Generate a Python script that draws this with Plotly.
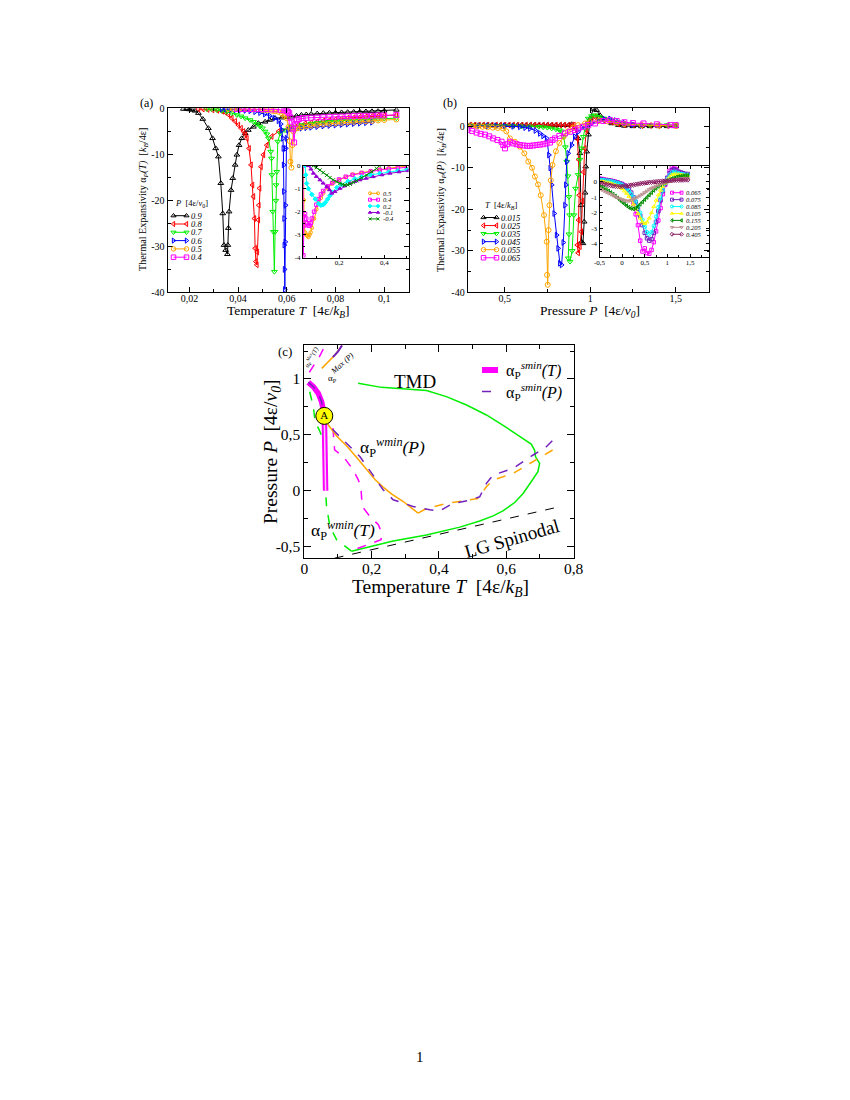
import plotly.graph_objects as go

W, H = 850, 1100
FONT = "Liberation Serif"

# ---------------- Panel (a): alpha_P(T) at fixed P ----------------
T_A09 = [0.0175, 0.0189, 0.0200, 0.0211, 0.0223, 0.0237, 0.0255, 0.0278, 0.0295, 0.0308,
         0.0319, 0.0329, 0.0337, 0.0342, 0.0349, 0.0356, 0.0358, 0.0360, 0.0363, 0.0371,
         0.0378, 0.0388, 0.0395, 0.0404, 0.0415, 0.0429, 0.0442, 0.0463, 0.0483, 0.0511,
         0.0530, 0.0552, 0.0580, 0.0600, 0.0620, 0.0640, 0.0660, 0.0680, 0.0700, 0.0725,
         0.0750, 0.0775, 0.0800, 0.0825, 0.0850, 0.0875, 0.0900, 0.0925, 0.0950, 0.0975,
         0.1000, 0.1050]
A_A09 = [0.0, 0.0, -0.1, -0.2, -0.4, -0.9, -2.2, -4.2, -6.4, -8.6,
         -10.4, -16.2, -22.8, -29.7, -30.8, -31.7, -29.7, -26.0, -22.4, -17.7,
         -15.1, -12.2, -10.0, -7.9, -6.4, -5.3, -4.6, -3.9, -3.1, -2.8,
         -2.4, -2.0, -1.9, -1.8, -1.7, -1.5, -1.3, -1.2, -1.1, -1.0,
         -0.9, -0.85, -0.8, -0.75, -0.7, -0.65, -0.6, -0.55, -0.5, -0.45,
         -0.4, -0.2]

T_A08 = [0.0237, 0.0255, 0.0275, 0.0295, 0.0315, 0.0335, 0.0347, 0.0360, 0.0374, 0.0388,
         0.0401, 0.0412, 0.0422, 0.0430, 0.0436, 0.0445, 0.0453, 0.0459, 0.0463, 0.0467,
         0.0470, 0.0473, 0.0477, 0.0479, 0.0483, 0.0485, 0.0488, 0.0494, 0.0504, 0.0518,
         0.0538, 0.0566, 0.0607, 0.0648, 0.0675, 0.0700, 0.0725, 0.0750, 0.0775, 0.0800,
         0.0825, 0.0850, 0.0875, 0.0900, 0.0925, 0.0950, 0.0975, 0.1000, 0.1050]
A_A08 = [0.0, 0.0, -0.1, -0.2, -0.3, -0.5, -0.7, -1.2, -2.0, -2.7,
         -3.5, -4.2, -4.9, -5.6, -6.4, -8.6, -12.2, -16.6, -19.1, -23.9,
         -30.4, -33.3, -34.0, -31.2, -24.2, -21.0, -17.3, -12.6, -10.0, -7.9,
         -6.0, -4.9, -4.2, -3.5, -3.2, -3.0, -2.8, -2.6, -2.45, -2.3,
         -2.15, -2.0, -1.9, -1.8, -1.7, -1.6, -1.5, -1.45, -1.3]

T_A07 = [0.0271, 0.0290, 0.0312, 0.0333, 0.0353, 0.0374, 0.0395, 0.0412, 0.0429, 0.0449,
         0.0463, 0.0477, 0.0490, 0.0500, 0.0511, 0.0518, 0.0525, 0.0534, 0.0537, 0.0539,
         0.0542, 0.0545, 0.0549, 0.0552, 0.0555, 0.0556, 0.0559, 0.0563, 0.0573, 0.0593,
         0.0620, 0.0660, 0.0700, 0.0725, 0.0750, 0.0775, 0.0800, 0.0825, 0.0850, 0.0875,
         0.0900, 0.0925, 0.0950, 0.0975, 0.1000, 0.1050]
A_A07 = [0.0, 0.0, -0.2, -0.4, -0.6, -0.9, -1.3, -1.6, -2.0, -2.4,
         -2.8, -3.3, -3.8, -4.2, -4.9, -5.5, -6.4, -9.3, -10.8, -14.4,
         -22.4, -26.8, -35.5, -26.8, -20.0, -16.6, -13.7, -7.1, -5.3, -4.6,
         -3.9, -3.5, -3.2, -3.05, -2.9, -2.8, -2.7, -2.6, -2.5, -2.45,
         -2.4, -2.3, -2.25, -2.2, -2.1, -2.0]

T_A06 = [0.0333, 0.0350, 0.0370, 0.0390, 0.0410, 0.0430, 0.0450, 0.0470, 0.0490, 0.0510,
         0.0530, 0.0550, 0.0566, 0.0575, 0.0580, 0.0584, 0.0586, 0.0587, 0.0588, 0.0589,
         0.0590, 0.0591, 0.0592, 0.0594, 0.0595, 0.0596, 0.0599, 0.0605, 0.0620, 0.0640,
         0.0660, 0.0680, 0.0700, 0.0725, 0.0750, 0.0775, 0.0800, 0.0825, 0.0850, 0.0875,
         0.0900, 0.0925, 0.0950]
A_A06 = [0.0, 0.0, -0.1, -0.15, -0.2, -0.3, -0.4, -0.6, -0.8, -1.1,
         -1.5, -2.0, -2.6, -3.3, -4.6, -6.4, -8.6, -12.2, -18.0, -23.9,
         -29.7, -35.0, -39.4, -29.0, -21.0, -8.6, -6.4, -4.6, -4.3, -4.3,
         -4.2, -4.1, -4.0, -3.85, -3.7, -3.6, -3.5, -3.4, -3.3, -3.2,
         -3.1, -3.0, -2.9]

T_A05 = [0.0360, 0.0380, 0.0400, 0.0420, 0.0440, 0.0460, 0.0480, 0.0500, 0.0520, 0.0540,
         0.0552, 0.0565, 0.0580, 0.0590, 0.0600, 0.0607, 0.0612, 0.0615, 0.0619, 0.0623,
         0.0627, 0.0634, 0.0645, 0.0660, 0.0680, 0.0700, 0.0725, 0.0750, 0.0775, 0.0800,
         0.0825, 0.0850, 0.0875, 0.0900, 0.0925, 0.0950, 0.0975, 0.1000, 0.1050]
A_A05 = [0.0, 0.0, 0.0, 0.0, 0.0, -0.1, -0.1, -0.2, -0.3, -0.4,
         -0.5, -0.6, -1.0, -1.5, -2.0, -3.9, -7.0, -11.5, -12.8, -7.9,
         -4.9, -4.2, -4.2, -4.0, -3.8, -3.6, -3.45, -3.3, -3.2, -3.1,
         -3.0, -2.9, -2.8, -2.7, -2.65, -2.6, -2.5, -2.4, -2.3]

T_A04 = [0.0395, 0.0415, 0.0435, 0.0455, 0.0475, 0.0495, 0.0515, 0.0535, 0.0555, 0.0575,
         0.0590, 0.0600, 0.0605, 0.0610, 0.0615, 0.0620, 0.0625, 0.0630, 0.0635, 0.0640,
         0.0650, 0.0665, 0.0680, 0.0700, 0.0725, 0.0750, 0.0775, 0.0800, 0.0825, 0.0850,
         0.0875, 0.0900, 0.0925, 0.0950, 0.0975, 0.1000, 0.1050]
A_A04 = [0.0, 0.0, 0.0, 0.0, 0.0, 0.0, 0.0, -0.1, -0.1, -0.2,
         -0.3, -0.4, -0.6, -0.9, -1.9, -2.8, -4.3, -7.3, -3.3, -2.5,
         -2.2, -2.0, -1.95, -1.9, -1.85, -1.8, -1.75, -1.7, -1.65, -1.6,
         -1.55, -1.5, -1.5, -1.45, -1.4, -1.4, -1.3]

# inset (a)
T_I05 = [0.043, 0.0445, 0.046, 0.050, 0.055, 0.060, 0.065, 0.070, 0.075, 0.080, 0.090, 0.100, 0.110,
         0.120, 0.130, 0.150, 0.170, 0.200, 0.230, 0.260, 0.300, 0.340, 0.380, 0.420, 0.460, 0.500]
A_I05 = [0.0, -1.5, -2.5, -2.9, -3.0, -3.05, -3.1, -3.0, -2.9, -2.7, -2.3, -1.9, -1.6,
         -1.4, -1.2, -0.95, -0.78, -0.62, -0.5, -0.38, -0.3, -0.23, -0.16, -0.11, -0.06, -0.02]
T_I04 = [0.041, 0.0425, 0.045, 0.050, 0.055, 0.060, 0.065, 0.070, 0.075, 0.080, 0.090, 0.100, 0.110,
         0.120, 0.130, 0.150, 0.170, 0.200, 0.230, 0.260, 0.300, 0.340, 0.380, 0.420, 0.460, 0.500]
A_I04 = [0.0, -3.9, -2.6, -2.1, -2.3, -2.5, -2.6, -2.6, -2.5, -2.3, -2.0, -1.7, -1.45,
         -1.25, -1.1, -0.9, -0.75, -0.6, -0.48, -0.4, -0.32, -0.25, -0.19, -0.14, -0.1, -0.07]
T_I02 = [0.050, 0.053, 0.057, 0.065, 0.080, 0.095, 0.110, 0.120, 0.130, 0.140, 0.150, 0.160,
         0.170, 0.190, 0.210, 0.240, 0.270, 0.300, 0.340, 0.380, 0.420, 0.460, 0.500]
A_I02 = [0.0, -0.4, -0.77, -1.0, -1.25, -1.45, -1.65, -1.72, -1.7, -1.6, -1.45, -1.3,
         -1.15, -0.95, -0.82, -0.68, -0.57, -0.48, -0.4, -0.33, -0.27, -0.22, -0.17]
T_Im01 = [0.065, 0.076, 0.087, 0.100, 0.116, 0.130, 0.146, 0.158, 0.168, 0.182, 0.204,
          0.225, 0.249, 0.270, 0.293, 0.320, 0.351, 0.390, 0.425, 0.465, 0.506]
A_Im01 = [0.0, -0.15, -0.33, -0.47, -0.62, -0.76, -0.91, -1.05, -1.2, -1.13, -0.99,
          -0.88, -0.77, -0.69, -0.62, -0.55, -0.48, -0.4, -0.33, -0.27, -0.22]
T_Im04 = [0.087, 0.100, 0.116, 0.130, 0.146, 0.160, 0.175, 0.190, 0.204, 0.215,
          0.226, 0.238, 0.249, 0.263, 0.278, 0.300, 0.322, 0.345, 0.366, 0.378]
A_Im04 = [0.0, -0.08, -0.19, -0.3, -0.41, -0.52, -0.62, -0.7, -0.77, -0.81,
          -0.84, -0.83, -0.8, -0.73, -0.65, -0.53, -0.41, -0.26, -0.12, 0.0]

# ---------------- Panel (b): alpha_P(P) at fixed T ----------------
P_B015 = [0.30, 0.325, 0.35, 0.375, 0.40, 0.425, 0.45, 0.475, 0.50, 0.525, 0.55, 0.575,
          0.60, 0.625, 0.65, 0.675, 0.70, 0.725, 0.75, 0.775, 0.80, 0.825, 0.85, 0.875,
          0.892, 0.910, 0.930, 0.940, 0.946, 0.950, 0.958, 0.965, 0.970, 0.974, 0.980, 0.990,
          1.000, 1.018, 1.038, 1.057, 1.087, 1.126, 1.165, 1.200, 1.250, 1.300, 1.350, 1.400,
          1.450, 1.500]
A_B015 = [0.3, 0.3, 0.3, 0.3, 0.3, 0.3, 0.3, 0.3, 0.3, 0.3, 0.3, 0.3,
          0.3, 0.3, 0.3, 0.3, 0.3, 0.3, 0.3, 0.3, 0.3, 0.3, 0.3, 0.3,
          0.5, -0.3, -2.9, -6.5, -19.0, -27.8, -28.2, -23.0, -16.0, -9.7, -6.1, -2.0,
          1.9, 4.2, 3.9, 2.7, 1.5, 0.7, 0.3, 0.1, 0.0, 0.0, 0.0, 0.0,
          0.0, 0.0]
P_B025 = [0.30, 0.325, 0.35, 0.375, 0.40, 0.425, 0.45, 0.475, 0.50, 0.525, 0.55, 0.575,
          0.60, 0.625, 0.65, 0.675, 0.70, 0.725, 0.75, 0.775, 0.80, 0.825, 0.85, 0.875,
          0.895, 0.905, 0.915, 0.925, 0.932, 0.936, 0.932, 0.925, 0.930, 0.940, 0.948, 0.955,
          0.962, 0.968, 0.978, 0.989, 1.009, 1.028, 1.050, 1.080, 1.126, 1.165, 1.200, 1.250,
          1.300, 1.350, 1.400, 1.450, 1.500]
A_B025 = [0.3, 0.3, 0.3, 0.3, 0.3, 0.3, 0.3, 0.3, 0.3, 0.3, 0.3, 0.3,
          0.3, 0.3, 0.3, 0.3, 0.3, 0.3, 0.3, 0.3, 0.3, 0.3, 0.3, 0.3,
          0.3, 0.3, -0.5, -3.0, -8.0, -16.6, -22.6, -28.6, -30.5, -29.0, -25.4, -18.0,
          -11.0, -5.3, -0.9, 1.1, 1.9, 2.3, 2.0, 1.5, 1.0, 0.6, 0.4, 0.3,
          0.2, 0.2, 0.2, 0.2, 0.2]
P_B035 = [0.30, 0.35, 0.40, 0.45, 0.50, 0.55, 0.60, 0.65, 0.70, 0.725,
          0.75, 0.775, 0.80, 0.82, 0.833, 0.845, 0.855, 0.863, 0.870, 0.876,
          0.880, 0.876, 0.872, 0.882, 0.895, 0.905, 0.915, 0.930, 0.940, 0.950,
          0.960, 0.970, 0.989, 1.008, 1.028, 1.050, 1.080, 1.126, 1.165, 1.200,
          1.250, 1.300, 1.350, 1.400, 1.450, 1.500]
A_B035 = [0.2, 0.2, 0.2, 0.1, 0.1, 0.1, 0.0, 0.0, -0.1, -0.2,
          -0.3, -0.5, -0.7, -0.9, -1.2, -2.5, -5.0, -8.5, -12.0, -17.0,
          -21.4, -26.0, -31.8, -32.6, -30.0, -21.4, -15.0, -11.7, -8.0, -5.3,
          -2.5, -0.5, 1.9, 2.5, 2.7, 2.3, 1.9, 1.5, 1.0, 0.6,
          0.4, 0.3, 0.3, 0.3, 0.3, 0.3]
P_B045 = [0.30, 0.35, 0.40, 0.45, 0.50, 0.55, 0.589, 0.620, 0.648, 0.680,
          0.706, 0.725, 0.746, 0.759, 0.767, 0.775, 0.790, 0.804, 0.813, 0.823,
          0.833, 0.843, 0.853, 0.858, 0.863, 0.872, 0.892, 0.910, 0.930, 0.951,
          0.980, 1.010, 1.050, 1.085, 1.117, 1.150, 1.200, 1.250, 1.300]
A_B045 = [0.1, 0.1, 0.1, 0.1, 0.1, 0.0, -0.1, -0.3, -0.5, -1.0,
          -1.7, -2.3, -2.9, -6.9, -10.0, -14.1, -21.0, -26.2, -29.4, -33.0,
          -33.4, -28.0, -19.0, -14.1, -8.5, -6.5, -4.5, -2.5, -1.3, -0.3,
          0.2, 0.8, 1.3, 1.7, 1.8, 1.4, 0.8, 0.4, 0.2]
P_B055 = [0.283, 0.310, 0.340, 0.370, 0.400, 0.430, 0.460, 0.490, 0.510, 0.531,
          0.560, 0.589, 0.615, 0.638, 0.660, 0.677, 0.695, 0.711, 0.730, 0.746,
          0.748, 0.752, 0.757, 0.762, 0.770, 0.780, 0.800, 0.820, 0.845, 0.870,
          0.900, 0.930, 0.970, 1.000, 1.050, 1.100, 1.150, 1.200, 1.300, 1.400, 1.500]
A_B055 = [0.2, 0.1, 0.0, -0.1, -0.2, -0.3, -0.4, -0.5, -1.2, -2.9,
          -3.7, -4.9, -6.5, -8.5, -10.0, -12.1, -14.0, -16.6, -21.4, -27.8,
          -35.8, -38.2, -25.0, -19.0, -13.0, -9.3, -6.0, -4.0, -2.5, -1.2,
          -0.3, 0.3, 0.7, 1.0, 1.3, 1.2, 0.9, 0.6, 0.3, 0.2, 0.1]
P_B065 = [0.283, 0.310, 0.336, 0.360, 0.385, 0.410, 0.433, 0.458, 0.482, 0.492,
          0.502, 0.515, 0.531, 0.550, 0.570, 0.589, 0.610, 0.630, 0.648, 0.668,
          0.687, 0.706, 0.726, 0.745, 0.765, 0.780, 0.794, 0.820, 0.853, 0.882,
          0.911, 0.930, 0.960, 0.989, 1.028, 1.077, 1.116, 1.155, 1.200, 1.250,
          1.312, 1.390, 1.470, 1.500]
A_B065 = [-0.8, -1.1, -1.5, -1.8, -2.0, -2.4, -2.9, -3.3, -3.7, -4.5,
          -5.3, -4.3, -3.7, -4.1, -4.3, -4.5, -4.6, -4.7, -4.7, -4.6,
          -4.5, -4.4, -4.3, -4.1, -3.9, -3.3, -2.9, -2.3, -1.7, -1.3,
          -0.9, -0.5, -0.1, 0.3, 0.7, 1.3, 1.5, 1.3, 1.0, 0.8,
          0.7, 0.5, 0.3, 0.3]

# inset (b)
P_INSET = [-0.5, -0.45, -0.4, -0.35, -0.3, -0.25, -0.2, -0.15, -0.1, -0.05,
           0.0, 0.05, 0.1, 0.15, 0.2, 0.25, 0.3, 0.35, 0.4, 0.45,
           0.5, 0.55, 0.6, 0.65, 0.7, 0.75, 0.8, 0.85, 0.9, 0.95,
           1.0, 1.05, 1.1, 1.15, 1.2, 1.25, 1.3, 1.35, 1.4, 1.45]
A_J065 = [0.2, 0.18, 0.15, 0.12, 0.1, 0.07, 0.04, 0.0, -0.05, -0.1,
          -0.15, -0.25, -0.4, -0.6, -0.9, -1.4, -2.1, -2.8, -3.8, -4.5,
          -4.3, -4.6, -4.65, -4.4, -3.9, -3.2, -2.5, -1.7, -0.8, -0.2,
          0.25, 0.7, 0.95, 1.0, 0.8, 0.6]
A_J075 = [0.15, 0.14, 0.12, 0.1, 0.08, 0.05, 0.02, -0.02, -0.05, -0.1,
          -0.15, -0.25, -0.35, -0.5, -0.7, -1.0, -1.3, -1.75, -2.2, -2.8,
          -3.3, -3.65, -3.8, -3.7, -3.3, -2.6, -1.9, -1.2, -0.6, -0.15,
          0.25, 0.55, 0.75, 0.8, 0.75, 0.65, 0.6, 0.55, 0.5, 0.5]
A_J085 = [0.12, 0.11, 0.1, 0.08, 0.06, 0.03, 0.0, -0.04, -0.08, -0.13,
          -0.2, -0.3, -0.42, -0.6, -0.8, -1.0, -1.25, -1.6, -2.0, -2.45,
          -2.9, -3.25, -3.4, -3.25, -2.85, -2.25, -1.65, -1.05, -0.55, -0.1,
          0.2, 0.45, 0.6, 0.65, 0.6, 0.55, 0.5, 0.48, 0.45, 0.45]
A_J105 = [0.05, 0.03, 0.0, -0.03, -0.05, -0.1, -0.15, -0.2, -0.25, -0.35,
          -0.45, -0.6, -0.75, -0.95, -1.2, -1.45, -1.75, -2.05, -2.35, -2.6,
          -2.7, -2.6, -2.35, -2.0, -1.6, -1.2, -0.85, -0.55, -0.3, -0.1,
          0.1, 0.3, 0.45, 0.5, 0.5, 0.48, 0.45, 0.43, 0.4, 0.4]
A_J155 = [-0.25, -0.32, -0.4, -0.5, -0.6, -0.7, -0.8, -0.92, -1.05, -1.18,
          -1.3, -1.42, -1.55, -1.65, -1.72, -1.75, -1.7, -1.6, -1.45, -1.3,
          -1.15, -1.0, -0.85, -0.7, -0.55, -0.42, -0.3, -0.2, -0.1, -0.03,
          0.05, 0.12, 0.2, 0.25, 0.3, 0.33, 0.35, 0.38, 0.4, 0.4]
A_J205 = [-0.45, -0.52, -0.6, -0.68, -0.75, -0.82, -0.9, -0.98, -1.05, -1.1,
          -1.15, -1.2, -1.25, -1.24, -1.2, -1.13, -1.05, -0.98, -0.9, -0.8,
          -0.7, -0.6, -0.5, -0.42, -0.35, -0.28, -0.2, -0.15, -0.1, -0.05,
          0.0, 0.05, 0.1, 0.12, 0.15, 0.17, 0.2, 0.2, 0.2, 0.2]
A_J405 = [-0.05, -0.08, -0.12, -0.16, -0.2, -0.24, -0.27, -0.29, -0.3, -0.31,
          -0.3, -0.29, -0.27, -0.25, -0.22, -0.2, -0.17, -0.15, -0.12, -0.1,
          -0.08, -0.06, -0.04, -0.03, -0.01, 0.0, 0.02, 0.03, 0.04, 0.05,
          0.06, 0.07, 0.08, 0.09, 0.1, 0.1, 0.11, 0.11, 0.12, 0.12]

# ---------------- Panel (c): phase diagram ----------------
TMD_T = [0.160, 0.229, 0.363, 0.422, 0.482, 0.541, 0.600, 0.650, 0.674, 0.684, 0.687, 0.699,
         0.694, 0.674, 0.650, 0.625, 0.590, 0.561, 0.521, 0.462, 0.363, 0.264, 0.185, 0.140]
TMD_P = [0.961, 0.925, 0.896, 0.842, 0.767, 0.678, 0.567, 0.469, 0.418, 0.364, 0.304, 0.245,
         0.170, 0.081, -0.024, -0.105, -0.180, -0.225, -0.270, -0.325, -0.395, -0.450, -0.505, -0.540]
SPIN_T = [0.090, 0.755]
SPIN_P = [-0.603, -0.145]
WT_T = [0.140, 0.096, 0.076, 0.066, 0.0614, 0.0584, 0.0564, 0.045, 0.032, 0.027, 0.018, 0.013]
WT_P = [-0.540, -0.438, -0.319, -0.140, 0.098, 0.277, 0.455, 0.540, 0.619, 0.753, 0.872, 0.920]
MW_T = [0.085, 0.087, 0.090, 0.116, 0.145, 0.160, 0.168, 0.172, 0.195, 0.220, 0.230, 0.228, 0.185, 0.145]
MW_P = [0.560, 0.450, 0.366, 0.306, 0.188, 0.100, 0.039, -0.140, -0.230, -0.304, -0.378, -0.438, -0.482, -0.530]
OR_T = [0.0594, 0.071, 0.096, 0.126, 0.155, 0.185, 0.210, 0.235, 0.260, 0.294, 0.334, 0.338]
OR_P = [0.670, 0.590, 0.490, 0.400, 0.300, 0.190, 0.100, 0.030, -0.030, -0.096, -0.185, -0.200]
ORD_T = [0.338, 0.363, 0.420, 0.480, 0.515, 0.541, 0.561, 0.620, 0.680, 0.719, 0.754]
ORD_P = [-0.200, -0.158, -0.115, -0.085, -0.070, 0.036, 0.096, 0.155, 0.260, 0.334, 0.394]
PU_T = [0.012, 0.0267, 0.0415, 0.0514, 0.0564, 0.0594, 0.086, 0.116, 0.165, 0.200, 0.234, 0.264,
        0.294, 0.323, 0.373, 0.402, 0.442, 0.491, 0.521, 0.541, 0.561, 0.620, 0.680, 0.719, 0.754]
PU_P = [0.970, 0.931, 0.872, 0.797, 0.722, 0.670, 0.543, 0.455, 0.306, 0.158, 0.009, -0.080,
        -0.110, -0.140, -0.170, -0.180, -0.113, -0.084, -0.054, 0.066, 0.140, 0.200, 0.320, 0.394, 0.500]
MS_T = [0.012, 0.0267, 0.0415, 0.0514, 0.0564, 0.0594, 0.0605, 0.0613, 0.0623, 0.0633]
MS_P = [0.970, 0.931, 0.872, 0.797, 0.722, 0.650, 0.500, 0.350, 0.150, 0.000]
MXT_T = [0.015, 0.030, 0.045, 0.062]
MXT_P = [1.060, 1.130, 1.200, 1.300]
MXP_T = [0.052, 0.070, 0.091, 0.112]
MXP_P = [1.095, 1.150, 1.214, 1.300]
MXPP_T = [0.085, 0.100, 0.112]
MXPP_P = [1.195, 1.245, 1.300]
A_T = [0.0594]
A_P = [0.670]

# legend labels
LEG_A = ["0.9", "0.8", "0.7", "0.6", "0.5", "0.4"]
LEG_AI = ["0.5", "0.4", "0.2", "-0.1", "-0.4"]
LEG_B = ["0.015", "0.025", "0.035", "0.045", "0.055", "0.065"]
LEG_BI = ["0.065", "0.075", "0.085", "0.105", "0.155", "0.205", "0.405"]

# colours / symbols
BLACK, RED, GREEN, BLUE = "#000000", "#ff0000", "#00ee00", "#0000ff"
ORANGE, MAGENTA, CYAN, YELLOW = "#ffa500", "#ff00ff", "#00ffff", "#ffff00"
VIOLET, INDIGO, GREEN4 = "#9400d3", "#7221bc", "#008b00"
ROSY, MAROON = "#bc8f8f", "#8b1c62"

fig = go.Figure()
annotations = []


def xd(a, b):
    return [a / W, b / W]


def yd(top, bottom):
    return [1 - bottom / H, 1 - top / H]


def axis(domain, rng, tickvals, ticktext, minor, fsize, tlen, anchor, standoff=0):
    return dict(domain=domain, range=rng, anchor=anchor, tickmode="array",
                tickvals=tickvals, ticktext=ticktext, ticks="inside", ticklen=tlen,
                tickwidth=1, tickcolor="black", ticklabelstandoff=standoff,
                minor=dict(tickmode="array", tickvals=minor, ticks="inside",
                           ticklen=max(2, round(tlen * 0.55)), tickwidth=1, tickcolor="black"),
                showline=True, linecolor="black", linewidth=1, mirror="ticks",
                showgrid=False, zeroline=False, automargin=False,
                tickfont=dict(family=FONT, size=fsize, color="black"),
                fixedrange=True)


def series(x, y, color, symbol, size, xa, ya, width=1.0):
    fig.add_trace(go.Scatter(
        x=x, y=y, mode="lines+markers", xaxis=xa, yaxis=ya, showlegend=False,
        hoverinfo="skip", line=dict(color=color, width=width),
        marker=dict(symbol=symbol, size=size, color=color, line=dict(color=color, width=1))))


def line(x, y, color, width, dash, xa="x5", ya="y5"):
    fig.add_trace(go.Scatter(x=x, y=y, mode="lines", xaxis=xa, yaxis=ya, showlegend=False,
                             hoverinfo="skip", line=dict(color=color, width=width, dash=dash)))


def text(x, y, s, size, anchor="center", angle=0, italic=False):
    annotations.append(dict(x=x, y=y, xref="x6", yref="y6", text=s, showarrow=False,
                            xanchor=anchor, yanchor="middle", textangle=angle,
                            font=dict(family=FONT, size=size, color="black",
                                      style="italic" if italic else "normal")))


def legend_block(labels, styles, x0, x1, y0, dy, xt, fsize, msize):
    for i, (lab, (col, sym)) in enumerate(zip(labels, styles)):
        y = y0 + i * dy
        fig.add_trace(go.Scatter(
            x=[x0, x1], y=[y, y], mode="lines+markers", xaxis="x6", yaxis="y6",
            showlegend=False, hoverinfo="skip", line=dict(color=col, width=1),
            marker=dict(symbol=sym, size=msize, color=col, line=dict(color=col, width=1))))
        text(xt, y, lab, fsize, anchor="left", italic=True)


# ---- panel (a) ----
STY_A = [(BLACK, "triangle-up-open"), (RED, "triangle-left-open"), (GREEN, "triangle-down-open"),
         (BLUE, "triangle-right-open"), (ORANGE, "circle-open"), (MAGENTA, "square-open")]
for (xx, yy), (c, s) in zip([(T_A09, A_A09), (T_A08, A_A08), (T_A07, A_A07), (T_A06, A_A06),
                             (T_A05, A_A05), (T_A04, A_A04)], STY_A):
    series(xx, yy, c, s, 5, "x", "y")

STY_AI = [(ORANGE, "circle-open"), (MAGENTA, "square-open"), (CYAN, "diamond"),
          (VIOLET, "triangle-up"), (GREEN4, "x-thin-open")]
for (xx, yy), (c, s) in zip([(T_I05, A_I05), (T_I04, A_I04), (T_I02, A_I02), (T_Im01, A_Im01),
                             (T_Im04, A_Im04)], STY_AI):
    series(xx, yy, c, s, 3.5, "x2", "y2")

# ---- panel (b) ----
for (xx, yy), (c, s) in zip([(P_B015, A_B015), (P_B025, A_B025), (P_B035, A_B035), (P_B045, A_B045),
                             (P_B055, A_B055), (P_B065, A_B065)], STY_A):
    series(xx, yy, c, s, 5, "x3", "y3")

STY_BI = [(MAGENTA, "square-open"), (INDIGO, "square-open"), (CYAN, "circle-open"),
          (YELLOW, "triangle-up-open"), (GREEN4, "triangle-left-open"),
          (ROSY, "triangle-down-open"), (MAROON, "diamond-open")]
for yy, (c, s) in zip([A_J065, A_J075, A_J085, A_J105, A_J155, A_J205, A_J405], STY_BI):
    series(P_INSET[:len(yy)], yy, c, s, 3.5, "x4", "y4")

# ---- panel (c) ----
line(SPIN_T, SPIN_P, BLACK, 1, "dash")
line(TMD_T, TMD_P, GREEN, 1.5, "solid")
line(WT_T, WT_P, GREEN, 1.5, "dash")
line(MW_T, MW_P, MAGENTA, 1.5, "dash")
line(MXT_T, MXT_P, MAGENTA, 1.5, "dash")
line(MXP_T, MXP_P, ORANGE, 1.5, "solid")
line(MXPP_T, MXPP_P, INDIGO, 2, "solid")
line(MS_T, MS_P, MAGENTA, 5.5, "solid")
line(MS_T[5:], MS_P[5:], "#f7c8f7", 1.5, "solid")
line(OR_T, OR_P, ORANGE, 1.5, "solid")
line(ORD_T, ORD_P, ORANGE, 1.5, "dash")
line(PU_T, PU_P, INDIGO, 1.5, "dash")
fig.add_trace(go.Scatter(x=A_T, y=A_P, mode="markers+text", xaxis="x5", yaxis="y5",
                         showlegend=False, hoverinfo="skip", text=["A"],
                         textposition="middle center",
                         textfont=dict(family=FONT, size=11, color="black"),
                         marker=dict(size=17, color=YELLOW, line=dict(color="black", width=1))))

# legend of (c)
fig.add_trace(go.Scatter(x=[482, 498], y=[370, 370], mode="lines", xaxis="x6", yaxis="y6",
                         showlegend=False, hoverinfo="skip", line=dict(color=MAGENTA, width=6)))
fig.add_trace(go.Scatter(x=[482, 498], y=[391.5, 391.5], mode="lines", xaxis="x6", yaxis="y6",
                         showlegend=False, hoverinfo="skip",
                         line=dict(color=INDIGO, width=1.5, dash="dash")))
text(504, 370, "α<sub>P</sub><sup><i>smin</i></sup><i>(T)</i>", 16, anchor="left")
text(504, 391.5, "α<sub>P</sub><sup><i>smin</i></sup><i>(P)</i>", 16, anchor="left")

# ---- legends (a), (b) ----
legend_block(LEG_A, STY_A, 173.5, 186.5, 215.7, 8.3, 189, 8.5, 4.5)
text(172.5, 203.3, "<i>P</i>\u00a0 [4ε/<i>v</i><sub>0</sub>]", 8.5, anchor="left")
legend_block(LEG_AI, STY_AI, 370, 378, 193.3, 6.4, 380.5, 6.5, 3)
legend_block(LEG_B, STY_A, 483.5, 496.5, 217.5, 8.05, 498.5, 8.5, 4.5)
text(483, 205, "<i>T</i>\u00a0 [4ε/<i>k</i><sub><i>B</i></sub>]", 8.5, anchor="left")
legend_block(LEG_BI, STY_BI, 672, 681.5, 192.7, 6.93, 684, 6.5, 3)

# ---- axis titles and labels ----
text(143, 200, "Thermal Expansivity α<sub><i>P</i></sub><i>(T)</i>\u00a0 [<i>k</i><sub><i>B</i></sub>/4ε]", 10.2, angle=-90)
text(288, 311, "Temperature <i>T</i>\u00a0 [4ε/<i>k</i><sub><i>B</i></sub>]", 13.5)
text(441, 200, "Thermal Expansivity α<sub><i>P</i></sub><i>(P)</i>\u00a0 [<i>k</i><sub><i>B</i></sub>/4ε]", 10.2, angle=-90)
text(590, 311, "Pressure <i>P</i>\u00a0 [4ε/<i>v</i><sub><i>0</i></sub>]", 13.5)
text(146, 103, "(a)", 12)
text(450, 103, "(b)", 12)
text(285, 351, "(c)", 13)
text(272, 452, "Pressure <i>P</i>\u00a0 [4ε/<i>v</i><sub><i>0</i></sub>]", 19.5, angle=-90)
text(440, 588, "Temperature <i>T</i>\u00a0 [4ε/<i>k</i><sub><i>B</i></sub>]", 19.5)
text(415, 381, "TMD", 19)
text(392, 447, "α<sub>P</sub><sup><i>wmin</i></sup><i>(P)</i>", 17.5)
text(343, 530, "α<sub>P</sub><sup><i>wmin</i></sup><i>(T)</i>", 17.5)
text(512, 538, "LG Spinodal", 19, angle=-16)
text(311, 357, "α<sub>P</sub><sup><i>Max</i></sup><i>(T)</i>", 6.5, angle=-62)
text(342, 363, "<i>Max</i> <i>(P)</i>", 8, angle=-42)
text(332, 378, "α<sub>P</sub>", 9)
text(420, 1057, "1", 15)

layout = dict(
    width=W, height=H, margin=dict(l=0, r=0, t=0, b=0, pad=0, autoexpand=False),
    paper_bgcolor="white", plot_bgcolor="rgba(0,0,0,0)", showlegend=False,
    font=dict(family=FONT, color="black"),
    annotations=annotations,
    xaxis=axis(xd(167.5, 408.5), [0.011, 0.110], [0.02, 0.04, 0.06, 0.08, 0.1],
               ["0,02", "0,04", "0,06", "0,08", "0,1"],
               [0.03, 0.05, 0.07, 0.09], 10, 5, "y", standoff=-3),
    yaxis=axis(yd(108.3, 292.3), [-40, 0.15], [0, -10, -20, -30, -40],
               ["0", "-10", "-20", "-30", "-40"], [-5, -15, -25, -35], 10, 5, "x"),
    xaxis2=axis(xd(303, 408.5), [0.041, 0.507], [0.2, 0.4], ["0,2", "0,4"],
                [0.1, 0.3, 0.5], 7, 3, "y2", standoff=-2),
    yaxis2=axis(yd(165.7, 257.7), [-4, 0], [0, -1, -2, -3, -4], ["0", "-1", "-2", "-3", "-4"],
                [-0.5, -1.5, -2.5, -3.5], 7, 3, "x2"),
    xaxis3=axis(xd(467.7, 709), [0.284, 1.695], [0.5, 1, 1.5], ["0,5", "1", "1,5"],
                [0.75, 1.25], 10, 5, "y3", standoff=-3),
    yaxis3=axis(yd(107.7, 292.3), [-40, 4.5], [0, -10, -20, -30, -40],
                ["0", "-10", "-20", "-30", "-40"], [-5, -15, -25, -35], 10, 5, "x3"),
    xaxis4=axis(xd(599.5, 709), [-0.5, 1.92], [-0.5, 0, 0.5, 1, 1.5],
                ["-0,5", "0", "0,5", "1", "1,5"], [-0.25, 0.25, 0.75, 1.25, 1.75], 7, 3, "y4",
                standoff=-2),
    yaxis4=axis(yd(165.5, 257.2), [-4.87, 1.05], [0, -1, -2, -3, -4],
                ["0", "-1", "-2", "-3", "-4"], [0.5, -0.5, -1.5, -2.5, -3.5, -4.5], 7, 3, "x4"),
    xaxis5=axis(xd(304.3, 573.6), [0, 0.8], [0, 0.2, 0.4, 0.6, 0.8],
                ["0", "0,2", "0,4", "0,6", "0,8"], [0.1, 0.3, 0.5, 0.7], 15.5, 7, "y5",
                standoff=-4),
    yaxis5=axis(yd(345, 558.3), [-0.604, 1.304], [-0.5, 0, 0.5, 1],
                ["-0,5", "0", "0,5", "1"], [-0.25, 0.25, 0.75, 1.25], 15.5, 7, "x5"),
    xaxis6=dict(domain=[0, 1], range=[0, W], visible=False, anchor="y6", fixedrange=True),
    yaxis6=dict(domain=[0, 1], range=[H, 0], visible=False, anchor="x6", fixedrange=True),
)
fig.update_layout(**layout)
fig.write_html("out.html", config={"displayModeBar": False, "staticPlot": True},
               post_script="document.body.style.margin='0';document.body.style.overflow='hidden';")
